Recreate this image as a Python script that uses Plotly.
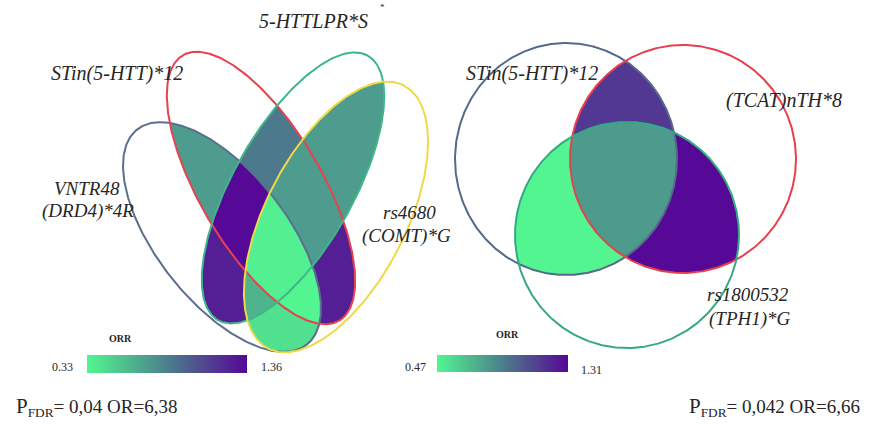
import numpy as np
import plotly.graph_objects as go

# ---------------- data ----------------
# Left panel: four alleles, region membership order = (VNTR48, STin, 5-HTTLPR, rs4680)
left_sets = ["VNTR48 (DRD4)*4R", "STin(5-HTT)*12", "5-HTTLPR*S", "rs4680 (COMT)*G"]
left_regions = ["1100", "0110", "0011", "1110", "0111", "1010", "0101", "1011", "1101", "1111", "1001"]
left_orr = [0.72, 0.87, 0.72, 1.36, 0.72, 1.26, 1.26, 0.62, 0.33, 0.35, 0.42]
left_range = [0.33, 1.36]
left_stats = "<span style='font-size:21px'>P</span><sub>FDR</sub>= 0,04 OR=6,38"

# Right panel: three alleles, membership order = (STin, (TCAT)n, rs1800532)
right_sets = ["STin(5-HTT)*12", "(TCAT)nTH*8", "rs1800532 (TPH1)*G"]
right_regions = ["110", "111", "101", "011"]
right_orr = [1.14, 0.79, 0.47, 1.31]
right_range = [0.47, 1.31]
right_stats = "<span style='font-size:21px'>P</span><sub>FDR</sub>= 0,042 OR=6,66"

# ---------------- styling / geometry ----------------
W, H = 875, 427
SERIF = "Liberation Serif, Times New Roman, serif"
TXT = "#262626"

ORR_SCALE = [[0.0, "#52f590"], [0.5, "#4c7f8c"], [1.0, "#560896"]]

# cx, cy, semi-axis a, semi-axis b, rotation (deg, screen y-down), outline colour
LEFT_SHAPES = [
    (222, 237, 137, 65, 51.75, "#5b6f8e"),
    (261, 188, 154, 61, 59.5, "#e8414f"),
    (293, 188, 152, 60, -60.5, "#3fb68a"),
    (336, 217, 148, 70, -62.7, "#f0d848"),
]
RIGHT_SHAPES = [
    (566, 159, 111, 116, 0, "#546a88"),
    (683, 159, 113, 114, 0, "#e6404e"),
    (627, 235, 112, 113, 0, "#35a985"),
]


def inside(X, Y, shp):
    cx, cy, a, b, ang, _ = shp
    t = np.radians(ang)
    dx, dy = X - cx, Y - cy
    u = dx * np.cos(t) + dy * np.sin(t)
    v = -dx * np.sin(t) + dy * np.cos(t)
    return (u / a) ** 2 + (v / b) ** 2 <= 1.0


def outline(shp, n=400):
    cx, cy, a, b, ang, _ = shp
    t = np.radians(ang)
    s = np.linspace(0, 2 * np.pi, n)
    x = cx + a * np.cos(s) * np.cos(t) - b * np.sin(s) * np.sin(t)
    y = cy + a * np.cos(s) * np.sin(t) + b * np.sin(s) * np.cos(t)
    return x, y


def region_field(shapes, codes, values, x0, x1, y0, y1):
    xs = np.arange(x0, x1) + 0.5
    ys = np.arange(y0, y1) + 0.5
    X, Y = np.meshgrid(xs, ys)
    masks = [inside(X, Y, s) for s in shapes]
    z = np.full(X.shape, np.nan)
    for code, val in zip(codes, values):
        m = np.ones(X.shape, dtype=bool)
        for c, mk in zip(code, masks):
            m &= mk if c == "1" else ~mk
        z[m] = val
    return xs, ys, z


fig = go.Figure()

# region fills
for shapes, codes, vals, rng, box in [
    (LEFT_SHAPES, left_regions, left_orr, left_range, (100, 445, 40, 360)),
    (RIGHT_SHAPES, right_regions, right_orr, right_range, (445, 810, 35, 360)),
]:
    xs, ys, z = region_field(shapes, codes, vals, *box)
    fig.add_trace(go.Heatmap(
        x=xs, y=ys, z=z, colorscale=ORR_SCALE, zmin=rng[0], zmax=rng[1],
        showscale=False, hoverinfo="skip", zsmooth=False))

# outlines
for shp in LEFT_SHAPES + RIGHT_SHAPES:
    x, y = outline(shp)
    fig.add_trace(go.Scatter(x=x, y=y, mode="lines",
                             line=dict(color=shp[5], width=2),
                             hoverinfo="skip"))

# ORR gradient legends
for rng, x0, x1, y0, y1 in [(left_range, 87, 247, 355, 373),
                            (right_range, 437, 568, 355, 372)]:
    n = 80
    fig.add_trace(go.Heatmap(
        x=np.linspace(x0, x1, n + 1), y=[y0, y1],
        z=[np.linspace(rng[0], rng[1], n)],
        colorscale=ORR_SCALE, zmin=rng[0], zmax=rng[1],
        showscale=False, hoverinfo="skip"))

ann = []


def label(text, x, y, size=20, bold=False, italic=True, xanchor="center"):
    t = text
    if italic:
        t = "<i>" + t + "</i>"
    if bold:
        t = "<b>" + t + "</b>"
    ann.append(dict(text=t, x=x, y=y, xref="x", yref="y", showarrow=False,
                    xanchor=xanchor, yanchor="middle",
                    font=dict(family=SERIF, size=size, color=TXT)))


# set names
label("5-HTTLPR*S", 313, 21)
label("*", 382, 7, size=9, italic=False)
label("STin(5-HTT)*12", 117, 73)
label("VNTR48", 87, 188, size=19)
label("(DRD4)*4R", 88, 211, size=19)
label("rs4680", 409, 212, size=19)
label("(COMT)*G", 406, 236, size=19)

label("STin(5-HTT)*12", 532, 73)
label("(TCAT)nTH*8", 784, 100)
label("rs1800532", 748, 294, size=19)
label("(TPH1)*G", 750, 319, size=19)

# legend texts
label("ORR", 120, 338, size=10, bold=True, italic=False)
label("0.33", 62, 367, size=12, italic=False)
label("1.36", 271, 367, size=12, italic=False)
label("ORR", 507, 334, size=10, bold=True, italic=False)
label("0.47", 415, 367, size=12, italic=False)
label("1.31", 591, 370, size=12, italic=False)

# test statistics
label(left_stats, 14, 407, size=19, italic=False, xanchor="left")
label(right_stats, 687, 407, size=19, italic=False, xanchor="left")

fig.update_layout(
    width=W, height=H, margin=dict(l=0, r=0, t=0, b=0),
    paper_bgcolor="white", plot_bgcolor="white", showlegend=False,
    xaxis=dict(range=[0, W], visible=False, fixedrange=True),
    yaxis=dict(range=[H, 0], visible=False, fixedrange=True),
    annotations=ann,
)

fig.write_html("out.html")
